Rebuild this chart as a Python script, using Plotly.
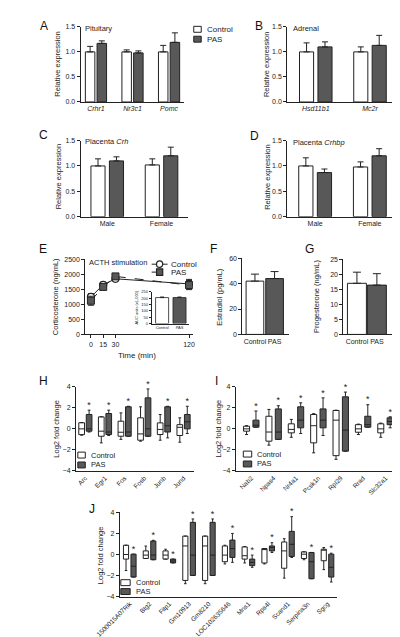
import plotly.graph_objects as go

W, H = 400, 637
FONT = "Arial, Liberation Sans, sans-serif"
DARK = "#585858"
LINE = "#222222"

# ---------------- data ----------------
groups = ["Control", "PAS"]

a_genes = ["Crhr1", "Nr3c1", "Pomc"]
a_ctrl = [1.00, 1.00, 1.00]
a_ctrl_err = [0.11, 0.04, 0.13]
a_pas = [1.17, 0.98, 1.19]
a_pas_err = [0.05, 0.04, 0.19]

b_genes = ["Hsd11b1", "Mc2r"]
b_ctrl = [1.00, 1.00]
b_ctrl_err = [0.18, 0.10]
b_pas = [1.10, 1.13]
b_pas_err = [0.10, 0.20]

sexes = ["Male", "Female"]
c_ctrl = [1.00, 1.02]
c_ctrl_err = [0.14, 0.12]
c_pas = [1.10, 1.20]
c_pas_err = [0.08, 0.17]

d_ctrl = [1.00, 0.98]
d_ctrl_err = [0.16, 0.10]
d_pas = [0.87, 1.20]
d_pas_err = [0.07, 0.14]

e_time = [0, 15, 30, 120]
e_ctrl = [1250, 1650, 1850, 1680]
e_ctrl_err = [100, 50, 60, 150]
e_pas = [1120, 1580, 1930, 1640]
e_pas_err = [150, 80, 50, 150]
auc_vals = [205, 205]
auc_err = [5, 5]

f_vals = [42, 44]
f_err = [5.5, 5.5]
g_vals = [17.0, 16.4]
g_err = [3.7, 3.8]

h_genes = ["Arc", "Egr1", "Fos", "Fosb", "Junb", "Jund"]
h_ctrl_q1 = [-0.55, -0.70, -0.70, -1.08, -0.54, -0.63]
h_ctrl_med = [0.00, -0.22, -0.32, -0.48, -0.05, 0.15]
h_ctrl_q3 = [0.58, 1.14, 0.73, 1.05, 0.57, 0.40]
h_ctrl_lo = [-0.60, -1.33, -1.00, -1.17, -1.08, -1.27]
h_ctrl_hi = [0.60, 1.15, 1.52, 2.10, 1.37, 1.05]
h_pas_q1 = [-0.22, -0.54, -0.70, -0.70, -0.30, 0.00]
h_pas_med = [0.00, -0.30, -0.30, 0.00, 0.30, 0.67]
h_pas_q3 = [1.37, 1.46, 2.10, 2.95, 2.10, 1.37]
h_pas_lo = [-0.30, -0.63, -0.70, -0.70, -0.86, -0.44]
h_pas_hi = [1.78, 1.78, 2.15, 3.80, 2.15, 2.15]

i_genes = ["Nab2", "Npas4", "Nr4a1", "Pcsk1n", "Rpl29", "Rrad", "Slc32a1"]
i_ctrl_q1 = [-0.22, -1.17, -0.38, -1.33, -2.55, -0.32, -0.38]
i_ctrl_med = [0.00, -0.30, -0.05, 0.30, 0.83, 0.00, 0.00]
i_ctrl_q3 = [0.25, 1.20, 0.48, 1.37, 1.75, 0.40, 0.48]
i_ctrl_lo = [-0.54, -1.55, -0.80, -2.28, -2.90, -0.54, -0.80]
i_ctrl_hi = [0.30, 1.85, 0.90, 1.45, 1.78, 0.45, 0.55]
i_pas_q1 = [0.16, -1.00, 0.10, 0.10, -2.12, 0.16, 0.40]
i_pas_med = [0.35, -0.30, 0.83, 0.83, -0.12, 0.40, 0.70]
i_pas_q3 = [0.83, 1.90, 2.10, 1.90, 3.05, 1.20, 1.05]
i_pas_lo = [0.16, -1.00, -0.44, -0.63, -2.12, 0.16, 0.10]
i_pas_hi = [1.70, 2.20, 2.48, 2.95, 3.50, 2.30, 1.15]

j_genes = ["1500015A07Rik", "Btg2", "Fitp1", "Gm10913", "Gm8210", "LOC102635646",
           "Mns1", "Rps4l", "Scand1", "Serpina3n", "Sgcg"]
j_ctrl_q1 = [-0.44, -0.38, -0.44, -2.47, -2.47, -0.69, -0.44, -0.81, -1.31, -0.38, -0.60]
j_ctrl_med = [0.00, -0.06, -0.06, 0.81, 0.81, -0.06, -0.12, 0.50, 0.34, 0.03, 0.44]
j_ctrl_q3 = [0.88, 0.34, 0.34, 1.75, 1.75, 0.81, 0.72, 0.56, 1.19, 0.25, 0.50]
j_ctrl_lo = [-1.53, -0.38, -0.44, -2.78, -2.78, -0.90, -0.81, -0.90, -2.25, -0.50, -1.44]
j_ctrl_hi = [0.88, 0.80, 0.50, 1.75, 1.75, 0.88, 0.75, 0.56, 1.50, 0.25, 0.66]
j_pas_q1 = [-2.15, -0.50, -0.80, -2.00, -2.00, -0.28, -1.06, 0.34, -0.19, -2.31, -2.15]
j_pas_med = [-1.12, -0.06, -0.62, -0.06, -0.06, 0.56, -0.75, 0.65, 0.97, -0.69, -1.22]
j_pas_q3 = [0.03, 1.28, -0.44, 3.06, 3.06, 1.37, -0.44, 0.81, 2.20, 0.19, 0.03]
j_pas_lo = [-2.15, -0.50, -0.80, -2.00, -2.00, -0.75, -1.22, 0.19, -0.28, -2.31, -2.62]
j_pas_hi = [0.03, 1.35, -0.44, 3.38, 3.38, 2.00, -0.06, 1.12, 3.60, 0.19, 0.12]


# ---------------- helpers ----------------
def dx(a, b):
    return [a / W, b / W]


def dy(top, bottom):
    return [1 - bottom / H, 1 - top / H]


def px(x):
    return x / W


def py(y):
    return 1 - y / H


def axis(**kw):
    base = dict(showline=True, linecolor=LINE, linewidth=1, ticks="outside",
                ticklen=3, tickwidth=1, tickcolor=LINE, showgrid=False,
                zeroline=False, tickfont=dict(size=7, color="#222"),
                fixedrange=True)
    base.update(kw)
    return base


fig = go.Figure()
layout = {}
shapes = []
ann = []


def axis_title(text, x, y, vertical=True, size=7.5):
    ann.append(dict(text=text, x=px(x), y=py(y), xref="paper", yref="paper",
                    showarrow=False, xanchor="center", yanchor="middle",
                    textangle=-90 if vertical else 0,
                    font=dict(size=size, color="#222")))


def legend_box(x0, x1, y0, y1, fill, label, size=8):
    """Legend swatch (not a data mark) plus its label, in pixel units."""
    shapes.append(dict(type="rect", xref="paper", yref="paper",
                       x0=px(x0), x1=px(x1), y0=py(y1), y1=py(y0),
                       fillcolor=fill, line=dict(color=LINE, width=1)))
    ann.append(dict(text=label, x=px(x1 + 4), y=py((y0 + y1) / 2), xref="paper", yref="paper",
                    showarrow=False, xanchor="left", yanchor="middle",
                    font=dict(size=size, color="#222")))


def legend_line(x0, x1, y, dash, marker, fill, label):
    shapes.append(dict(type="line", xref="paper", yref="paper",
                       x0=px(x0), x1=px(x1), y0=py(y), y1=py(y),
                       line=dict(color=LINE, width=1, dash=dash)))
    cx = (x0 + x1) / 2
    shapes.append(dict(type=marker, xref="paper", yref="paper",
                       x0=px(cx - 3.3), x1=px(cx + 3.3), y0=py(y + 3.3), y1=py(y - 3.3),
                       fillcolor=fill, line=dict(color=LINE, width=1.2)))
    ann.append(dict(text=label, x=px(x1 + 2), y=py(y), xref="paper", yref="paper",
                    showarrow=False, xanchor="left", yanchor="middle",
                    font=dict(size=8, color="#222")))


def bar_pair(xa, ya, cats, ctrl, ctrl_err, pas, pas_err, w, gap):
    eb = lambda e: dict(type="data", array=e, arrayminus=[0] * len(e), symmetric=False,
                        color=LINE, thickness=1, width=3)
    fig.add_trace(go.Bar(x=cats, y=ctrl, error_y=eb(ctrl_err), width=w,
                         offset=-w - gap / 2, marker=dict(color="white", line=dict(color=LINE, width=1)),
                         name="Control", xaxis=xa, yaxis=ya, showlegend=False))
    fig.add_trace(go.Bar(x=cats, y=pas, error_y=eb(pas_err), width=w,
                         offset=gap / 2, marker=dict(color=DARK, line=dict(color=LINE, width=1)),
                         name="PAS", xaxis=xa, yaxis=ya, showlegend=False))


# ---- Panel A ----
bar_pair("x", "y", a_genes, a_ctrl, a_ctrl_err, a_pas, a_pas_err, 0.26, 0.06)
layout["xaxis"] = axis(domain=dx(52, 163), anchor="y", range=[-0.42, 2.42], ticks="",
                       tickvals=a_genes, ticktext=[f"<i>{g}</i>" for g in a_genes], tickangle=0)
layout["yaxis"] = axis(domain=dy(15, 91), anchor="x", range=[0, 1.5], dtick=0.5, tickformat=".1f")
axis_title("Relative expression", 27, 53)
legend_box(173, 181, 14.5, 20.5, "white", "Control")
legend_box(173, 181, 24.5, 30.5, DARK, "PAS")

# ---- Panel B ----
bar_pair("x2", "y2", b_genes, b_ctrl, b_ctrl_err, b_pas, b_pas_err, 0.26, 0.08)
layout["xaxis2"] = axis(domain=dx(273, 388), anchor="y2", range=[-0.526, 1.457], ticks="",
                        tickvals=b_genes, ticktext=[f"<i>{g}</i>" for g in b_genes], tickangle=0)
layout["yaxis2"] = axis(domain=dy(15, 91), anchor="x2", range=[0, 1.5], dtick=0.5, tickformat=".1f")
axis_title("Relative expression", 251, 53)

# ---- Panel C ----
bar_pair("x3", "y3", sexes, c_ctrl, c_ctrl_err, c_pas, c_pas_err, 0.26, 0.08)
layout["xaxis3"] = axis(domain=dx(52, 167), anchor="y3", range=[-0.49, 1.49], ticks="", tickangle=0)
layout["yaxis3"] = axis(domain=dy(130, 207), anchor="x3", range=[0, 1.5], dtick=0.5, tickformat=".1f")
axis_title("Relative expression", 28, 167)

# ---- Panel D ----
bar_pair("x4", "y4", sexes, d_ctrl, d_ctrl_err, d_pas, d_pas_err, 0.26, 0.08)
layout["xaxis4"] = axis(domain=dx(273, 390), anchor="y4", range=[-0.51, 1.49], ticks="", tickangle=0)
layout["yaxis4"] = axis(domain=dy(130, 207), anchor="x4", range=[0, 1.5], dtick=0.5, tickformat=".1f")
axis_title("Relative expression", 251, 167)

# ---- Panel E ----
fig.add_trace(go.Scatter(x=e_time, y=e_ctrl, mode="lines+markers", name="Control",
                         error_y=dict(type="data", array=e_ctrl_err, color=LINE, thickness=1, width=3),
                         line=dict(color=LINE, width=1),
                         marker=dict(symbol="circle", size=7, color="white", line=dict(color=LINE, width=1.2)),
                         xaxis="x5", yaxis="y5", showlegend=False))
fig.add_trace(go.Scatter(x=e_time, y=e_pas, mode="lines+markers", name="PAS",
                         error_y=dict(type="data", array=e_pas_err, color=LINE, thickness=1, width=3),
                         line=dict(color=LINE, width=1, dash="dash"),
                         marker=dict(symbol="square", size=7, color=DARK, line=dict(color=LINE, width=1)),
                         xaxis="x5", yaxis="y5", showlegend=False))
layout["xaxis5"] = axis(domain=dx(57, 172), anchor="y5", range=[-6.9, 124.6], tickangle=0,
                        tickvals=e_time)
layout["yaxis5"] = axis(domain=dy(250, 326), anchor="x5", range=[0, 2500], dtick=500)
axis_title("Corticosterone (ng/mL)", 26, 288)
axis_title("Time (min)", 112, 347, vertical=False, size=8)
legend_line(128, 145, 255, "solid", "circle", "white", "Control")
legend_line(128, 145, 263, "dash", "rect", DARK, "PAS")

# inset AUC
fig.add_trace(go.Bar(x=groups, y=auc_vals, width=0.75,
                     error_y=dict(type="data", array=auc_err, arrayminus=[0, 0], symmetric=False,
                                  color=LINE, thickness=0.8, width=2),
                     marker=dict(color=["white", DARK], line=dict(color=LINE, width=0.8)),
                     xaxis="x6", yaxis="y6", showlegend=False))
layout["xaxis6"] = axis(domain=dx(128, 168), anchor="y6", range=[-0.6, 1.55], ticks="", tickangle=0,
                        tickfont=dict(size=4, color="#222"), linewidth=0.8)
layout["yaxis6"] = axis(domain=dy(283, 315), anchor="x6", range=[0, 250], dtick=50,
                        ticklen=2, tickwidth=0.6, linewidth=0.8,
                        tickfont=dict(size=4, color="#222"),
                        title=dict(text="AUC units (x1,000)", font=dict(size=4), standoff=2))

# ---- Panel F ----
fig.add_trace(go.Bar(x=groups, y=f_vals, width=0.9,
                     error_y=dict(type="data", array=f_err, arrayminus=[0, 0], symmetric=False,
                                  color=LINE, thickness=1, width=4),
                     marker=dict(color=["white", DARK], line=dict(color=LINE, width=1)),
                     xaxis="x7", yaxis="y7", showlegend=False))
layout["xaxis7"] = axis(domain=dx(225, 275), anchor="y7", range=[-0.64, 1.74], ticks="", tickangle=0)
layout["yaxis7"] = axis(domain=dy(249, 326), anchor="x7", range=[0, 60], dtick=20)
axis_title("Estradiol (pg/mL)", 201, 288)

# ---- Panel G ----
fig.add_trace(go.Bar(x=groups, y=g_vals, width=0.95,
                     error_y=dict(type="data", array=g_err, arrayminus=[0, 0], symmetric=False,
                                  color=LINE, thickness=1, width=4),
                     marker=dict(color=["white", DARK], line=dict(color=LINE, width=1)),
                     xaxis="x8", yaxis="y8", showlegend=False))
layout["xaxis8"] = axis(domain=dx(333, 387), anchor="y8", range=[-0.68, 1.85], ticks="", tickangle=0)
layout["yaxis8"] = axis(domain=dy(250, 326), anchor="x8", range=[0, 25], dtick=5)
axis_title("Progesterone (ng/mL)", 305, 288)


# ---- box panels ----
def box_panel(xa, ya, genes, ctrl, pas, off, w):
    idx = list(range(len(genes)))
    for k, (stats, color, name) in enumerate([(ctrl, "white", "Control"), (pas, DARK, "PAS")]):
        q1, med, q3, lo, hi = stats
        xs = [i - off if k == 0 else i + off for i in idx]
        fig.add_trace(go.Box(x=xs, q1=q1, median=med, q3=q3, lowerfence=lo, upperfence=hi,
                             width=w, fillcolor=color, line=dict(color=LINE, width=1),
                             whiskerwidth=0.5, boxpoints=False, name=name,
                             xaxis=xa, yaxis=ya, showlegend=False))
    q1, med, q3, lo, hi = pas
    fig.add_trace(go.Scatter(x=[i + off for i in idx], y=hi, mode="text", text=["*"] * len(idx),
                             textposition="top center", textfont=dict(size=9, color="#222"),
                             xaxis=xa, yaxis=ya, showlegend=False, cliponaxis=False))


box_axis_y = dict(range=[-4, 4], dtick=2)

# H
box_panel("x9", "y9", h_genes,
          (h_ctrl_q1, h_ctrl_med, h_ctrl_q3, h_ctrl_lo, h_ctrl_hi),
          (h_pas_q1, h_pas_med, h_pas_q3, h_pas_lo, h_pas_hi), 0.19, 0.29)
layout["xaxis9"] = axis(domain=dx(47, 173), anchor="y9", range=[-0.48, 5.52], ticks="",
                        tickvals=list(range(len(h_genes))), ticktext=h_genes, tickangle=-45,
                        tickfont=dict(size=6.5, color="#222"))
layout["yaxis9"] = axis(domain=dy(379, 464), anchor="x9", **box_axis_y)
axis_title("Log2 fold change", 26, 421)
legend_box(49, 57, 445, 451, "white", "Control", 7.5)
legend_box(49, 57, 455, 461, DARK, "PAS", 7.5)

# I
box_panel("x10", "y10", i_genes,
          (i_ctrl_q1, i_ctrl_med, i_ctrl_q3, i_ctrl_lo, i_ctrl_hi),
          (i_pas_q1, i_pas_med, i_pas_q3, i_pas_lo, i_pas_hi), 0.21, 0.27)
layout["xaxis10"] = axis(domain=dx(218, 390), anchor="y10", range=[-0.69, 6.5], ticks="",
                         tickvals=list(range(len(i_genes))), ticktext=i_genes, tickangle=-45,
                         tickfont=dict(size=6.5, color="#222"))
layout["yaxis10"] = axis(domain=dy(379, 464), anchor="x10", **box_axis_y)
axis_title("Log2 fold change", 199, 421)
legend_box(226, 235, 444, 450, "white", "Control", 7.5)
legend_box(226, 235, 454, 460, DARK, "PAS", 7.5)

# J
box_panel("x11", "y11", j_genes,
          (j_ctrl_q1, j_ctrl_med, j_ctrl_q3, j_ctrl_lo, j_ctrl_hi),
          (j_pas_q1, j_pas_med, j_pas_q3, j_pas_lo, j_pas_hi), 0.19, 0.26)
layout["xaxis11"] = axis(domain=dx(94, 326), anchor="y11", range=[-0.5, 10.47], ticks="",
                         tickvals=list(range(len(j_genes))), ticktext=j_genes, tickangle=-45,
                         tickfont=dict(size=6.5, color="#222"))
layout["yaxis11"] = axis(domain=dy(506, 591), anchor="x11", **box_axis_y)
axis_title("Log2 fold change", 74, 549)
legend_box(95, 105, 574, 580, "white", "Control", 7.5)
legend_box(95, 105, 583, 589, DARK, "PAS", 7.5)

# ---------------- panel letters & titles ----------------
for letter, x, y in [("A", 13, 14), ("B", 243, 14), ("C", 12, 124), ("D", 238, 125),
                     ("E", 12, 240), ("F", 194, 240), ("G", 297, 240), ("H", 12, 373),
                     ("I", 197, 373), ("J", 64, 503)]:
    ann.append(dict(text=letter, x=px(x), y=py(y), xref="paper", yref="paper",
                    showarrow=False, xanchor="center", yanchor="middle",
                    font=dict(size=12, color="#111")))
for txt, x, y in [("Pituitary", 55, 17), ("Adrenal", 277, 17),
                  ("Placenta <i>Crh</i>", 55, 131), ("Placenta <i>Crhbp</i>", 277, 132),
                  ("ACTH stimulation", 59, 253)]:
    ann.append(dict(text=txt, x=px(x), y=py(y), xref="paper", yref="paper",
                    showarrow=False, xanchor="left", yanchor="middle",
                    font=dict(size=7.5, color="#222")))

fig.update_layout(**layout)
fig.update_layout(width=W, height=H, margin=dict(l=0, r=0, t=0, b=0),
                  paper_bgcolor="white", plot_bgcolor="white",
                  font=dict(family=FONT, size=8, color="#222"),
                  barmode="overlay", boxmode="overlay", showlegend=False,
                  annotations=ann, shapes=shapes)

fig.write_html("out.html")
